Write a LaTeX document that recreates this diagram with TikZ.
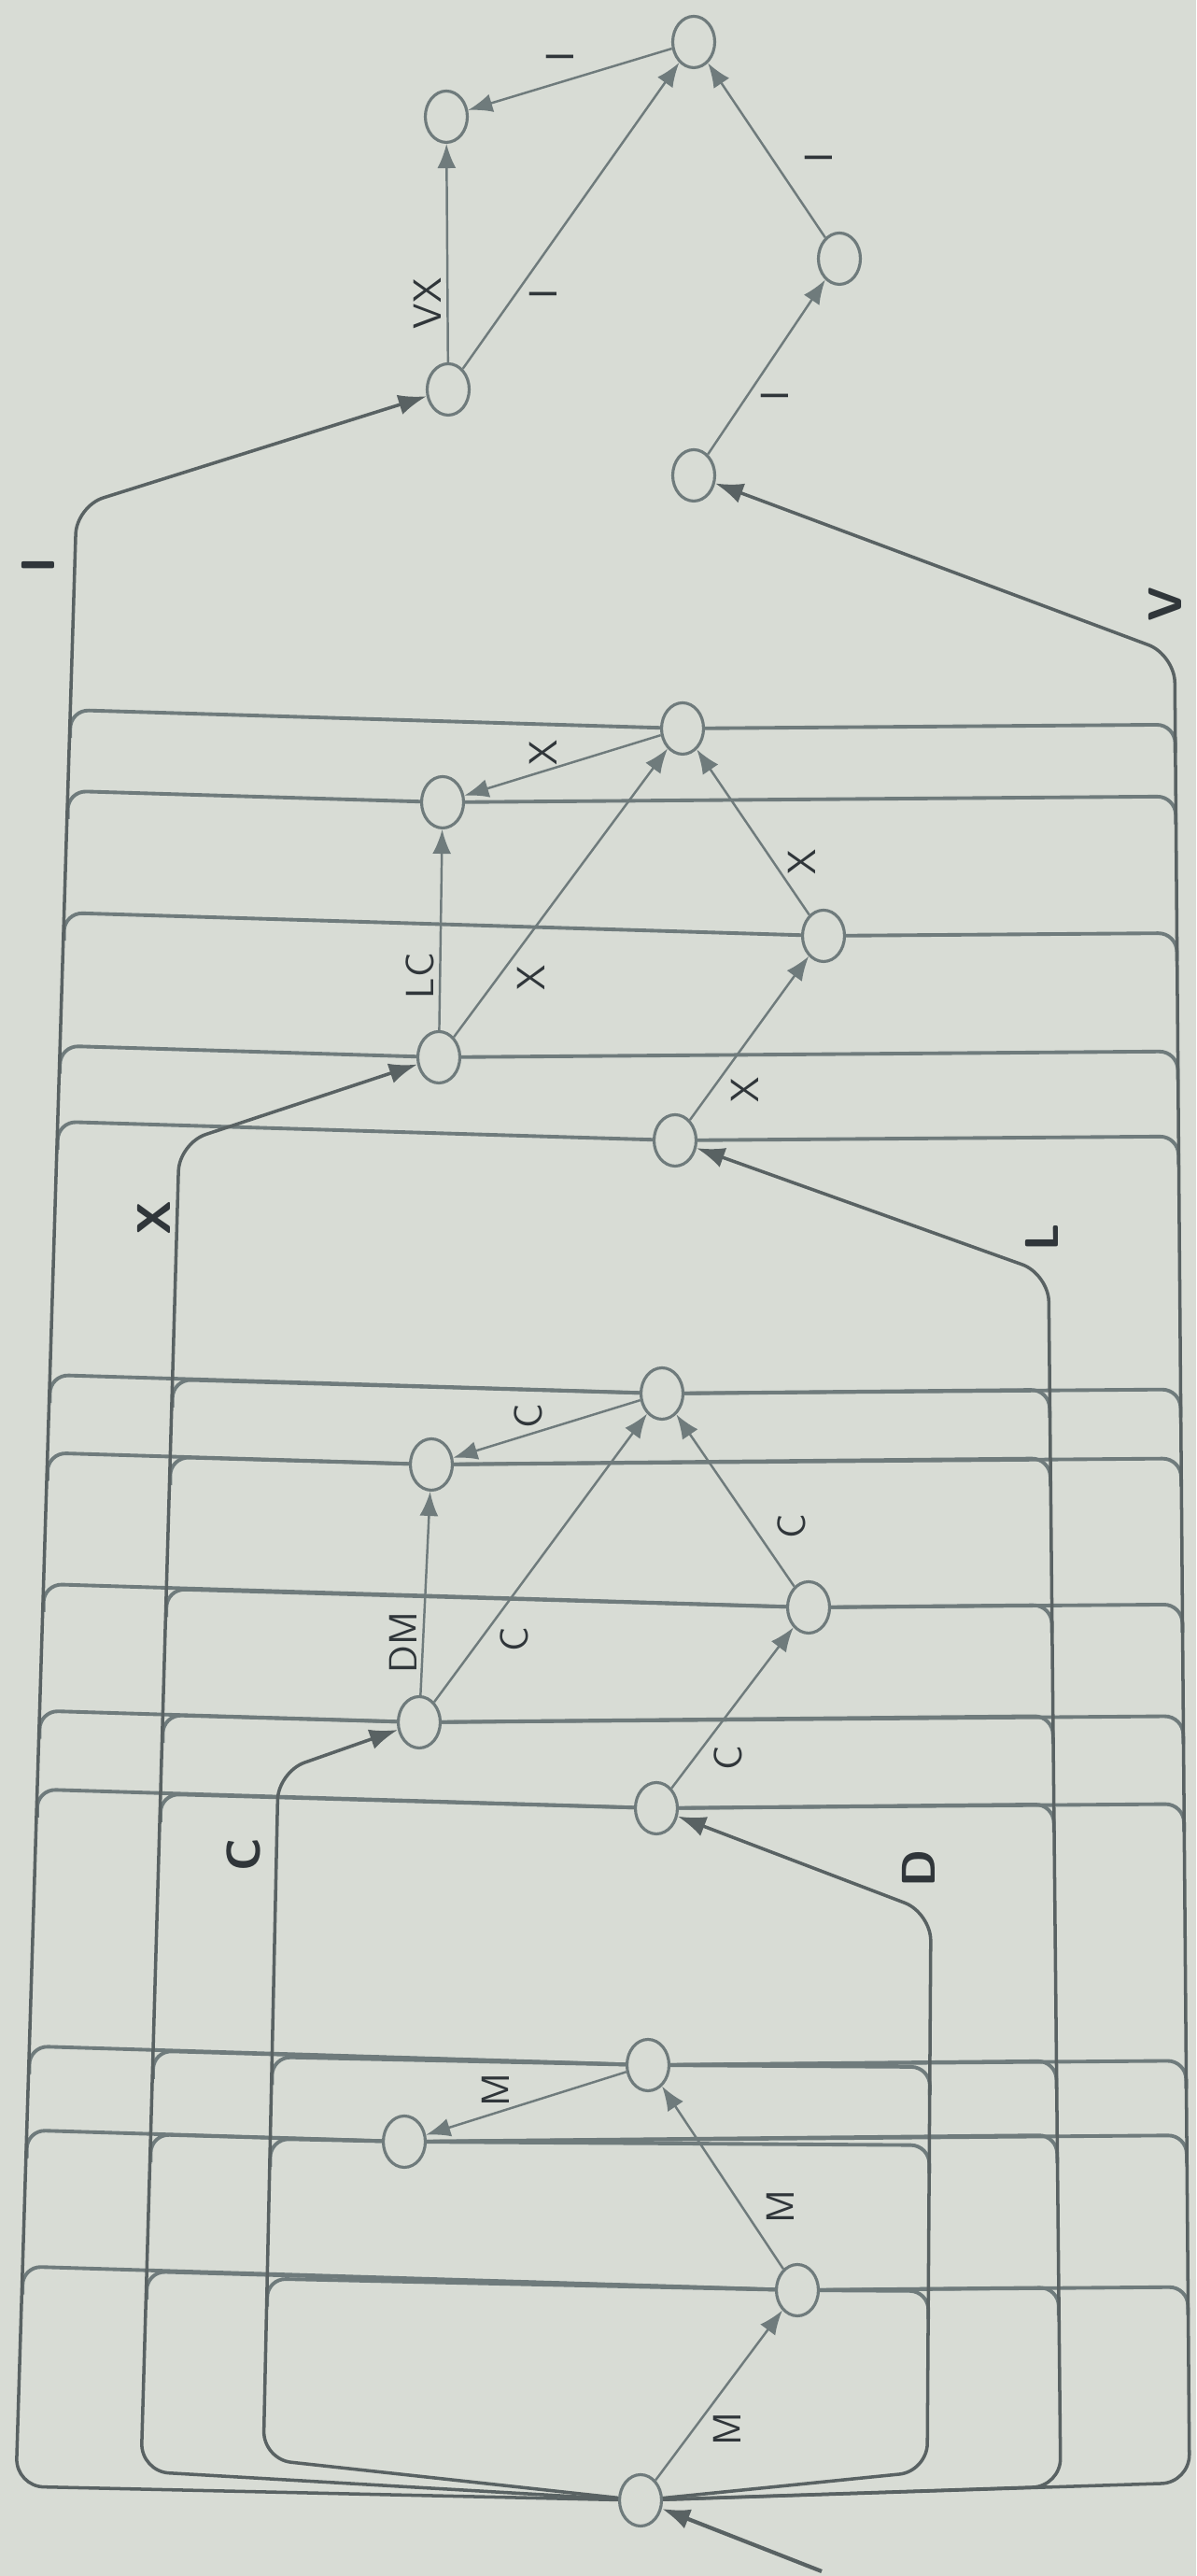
\documentclass[tikz,border=0pt]{standalone}
\usepackage{graphicx}
\usepackage{tikz}
\usetikzlibrary{shapes.geometric,arrows.meta,calc}

\definecolor{paper}{HTML}{D8DCD5}
\definecolor{pencil}{HTML}{6F7B7C}
\definecolor{ink}{HTML}{30363A}

% letters are written sideways on the sheet
\newcommand{\rlab}[1]{\rotatebox{90}{#1}}

\tikzset{
  state/.style={ellipse, draw=pencil, line width=0.9pt, fill=paper,
    minimum width=4.5mm, minimum height=5.5mm, inner sep=0pt},
  move/.style={draw=pencil, line width=0.7pt, -{Latex[length=2.6mm,width=2mm]}},
  bus/.style={draw=pencil!80!black, line width=1pt, rounded corners=3mm,
    -{Latex[length=3mm,width=2.2mm]}},
  wire/.style={draw=pencil, line width=1.1pt, rounded corners=2mm},
  lbl/.style={font=\sffamily\large, text=ink, inner sep=1.5pt},
  tag/.style={font=\sffamily\Large\bfseries, text=ink, inner sep=1.5pt}
}

\begin{document}
\begin{tikzpicture}
  \useasboundingbox (0,0) rectangle (12.81,27.58);
  \fill[paper] (0,0) rectangle (12.81,27.58);

  % I block
  \node[state] (iA) at (7.43,27.13) {};
  \node[state] (iB) at (4.78,26.33) {};
  \node[state] (iC) at (4.80,23.41) {};
  \node[state] (iD) at (8.99,24.81) {};
  \node[state] (iE) at (7.43,22.49) {};
  % X block
  \node[state] (xA) at (7.31,19.78) {};
  \node[state] (xB) at (4.74,18.99) {};
  \node[state] (xC) at (4.70,16.26) {};
  \node[state] (xD) at (8.82,17.56) {};
  \node[state] (xE) at (7.23,15.37) {};
  % C block
  \node[state] (cA) at (7.09,12.66) {};
  \node[state] (cB) at (4.62,11.90) {};
  \node[state] (cC) at (4.49,9.14) {};
  \node[state] (cD) at (8.66,10.37) {};
  \node[state] (cE) at (7.03,8.22) {};
  % M block
  \node[state] (mA) at (6.94,5.47) {};
  \node[state] (mB) at (4.33,4.65) {};
  \node[state] (mD) at (8.54,3.06) {};
  \node[state] (mS) at (6.86,0.81) {};
  \coordinate (start) at (8.80,0.05);

  % the six return lines
  \coordinate (botI) at (0.17,0.96);  \coordinate (topI) at (0.82,22.16);
  \coordinate (botX) at (1.51,1.12);  \coordinate (topX) at (1.92,15.34);
  \coordinate (botC) at (2.82,1.25);  \coordinate (topC) at (2.98,8.61);
  \coordinate (botD) at (9.93,1.12);  \coordinate (topD) at (9.97,7.10);
  \coordinate (botL) at (11.36,0.96); \coordinate (topL) at (11.23,13.94);
  \coordinate (botV) at (12.74,1.00); \coordinate (topV) at (12.58,20.57);

  \foreach \s in {mA,mB,mD}
    \foreach \b in {I,X,C,D,L,V}
      \draw[wire] (\s) -- ($(bot\b)!(\s)!(top\b)$) -- ++(0,-0.3);
  \foreach \s in {cA,cB,cC,cD,cE}
    \foreach \b in {I,X,L,V}
      \draw[wire] (\s) -- ($(bot\b)!(\s)!(top\b)$) -- ++(0,-0.3);
  \foreach \s in {xA,xB,xC,xD,xE}
    \foreach \b in {I,V}
      \draw[wire] (\s) -- ($(bot\b)!(\s)!(top\b)$) -- ++(0,-0.3);

  \draw[bus] (mS) -- (botI) -- node[tag, pos=0.97, left=1.5mm] {\rlab{I}} (topI) -- (iC);
  \draw[bus] (mS) -- (botX) -- node[tag, pos=0.944, left] {\rlab{X}} (topX) -- (xC);
  \draw[bus] (mS) -- (botC) -- node[tag, pos=0.88, left=1mm] {\rlab{C}} (topC) -- (cC);
  \draw[bus] (mS) -- (botD) -- (topD) -- node[tag, pos=0.05, above=1.5mm] {\rlab{D}} (cE);
  \draw[bus] (mS) -- (botL) -- (topL) -- node[tag, pos=0.02, above=1.5mm] {\rlab{L}} (xE);
  \draw[bus] (mS) -- (botV) -- (topV) -- node[tag, pos=0.02, above=2.5mm] {\rlab{V}} (iE);
  \draw[bus, line width=1.2pt] (start) -- (mS);

  % M
  \draw[move] (mS) -- node[lbl, pos=0.3, right=1.5mm] {\rlab{M}} (mD);
  \draw[move] (mD) -- node[lbl, pos=0.34, right=2mm] {\rlab{M}} (mA);
  \draw[move] (mA) -- node[lbl, pos=0.65, above] {\rlab{M}} (mB);
  % C
  \draw[move] (cC) -- node[lbl, pos=0.26, left] {\rlab{DM}} (cB);
  \draw[move] (cC) -- node[lbl, pos=0.28, below right] {\rlab{C}} (cA);
  \draw[move] (cA) -- node[lbl, pos=0.6, above] {\rlab{C}} (cB);
  \draw[move] (cE) -- node[lbl, pos=0.3, below right] {\rlab{C}} (cD);
  \draw[move] (cD) -- node[lbl, pos=0.35, right=2mm] {\rlab{C}} (cA);
  % X
  \draw[move] (xC) -- node[lbl, pos=0.27, left] {\rlab{LC}} (xB);
  \draw[move] (xC) -- node[lbl, pos=0.27, below right] {\rlab{X}} (xA);
  \draw[move] (xA) -- node[lbl, pos=0.6, above] {\rlab{X}} (xB);
  \draw[move] (xE) -- node[lbl, pos=0.3, below right] {\rlab{X}} (xD);
  \draw[move] (xD) -- node[lbl, pos=0.32, right=1mm] {\rlab{X}} (xA);
  % I
  \draw[move] (iC) -- node[lbl, pos=0.27, left] {\rlab{VX}} (iB);
  \draw[move] (iC) -- node[lbl, pos=0.28, below right] {\rlab{I}} (iA);
  \draw[move] (iA) -- node[lbl, pos=0.55, above=1.5mm] {\rlab{I}} (iB);
  \draw[move] (iE) -- node[lbl, pos=0.4, below right] {\rlab{I}} (iD);
  \draw[move] (iD) -- node[lbl, pos=0.46, right=3mm] {\rlab{I}} (iA);
\end{tikzpicture}
\end{document}
